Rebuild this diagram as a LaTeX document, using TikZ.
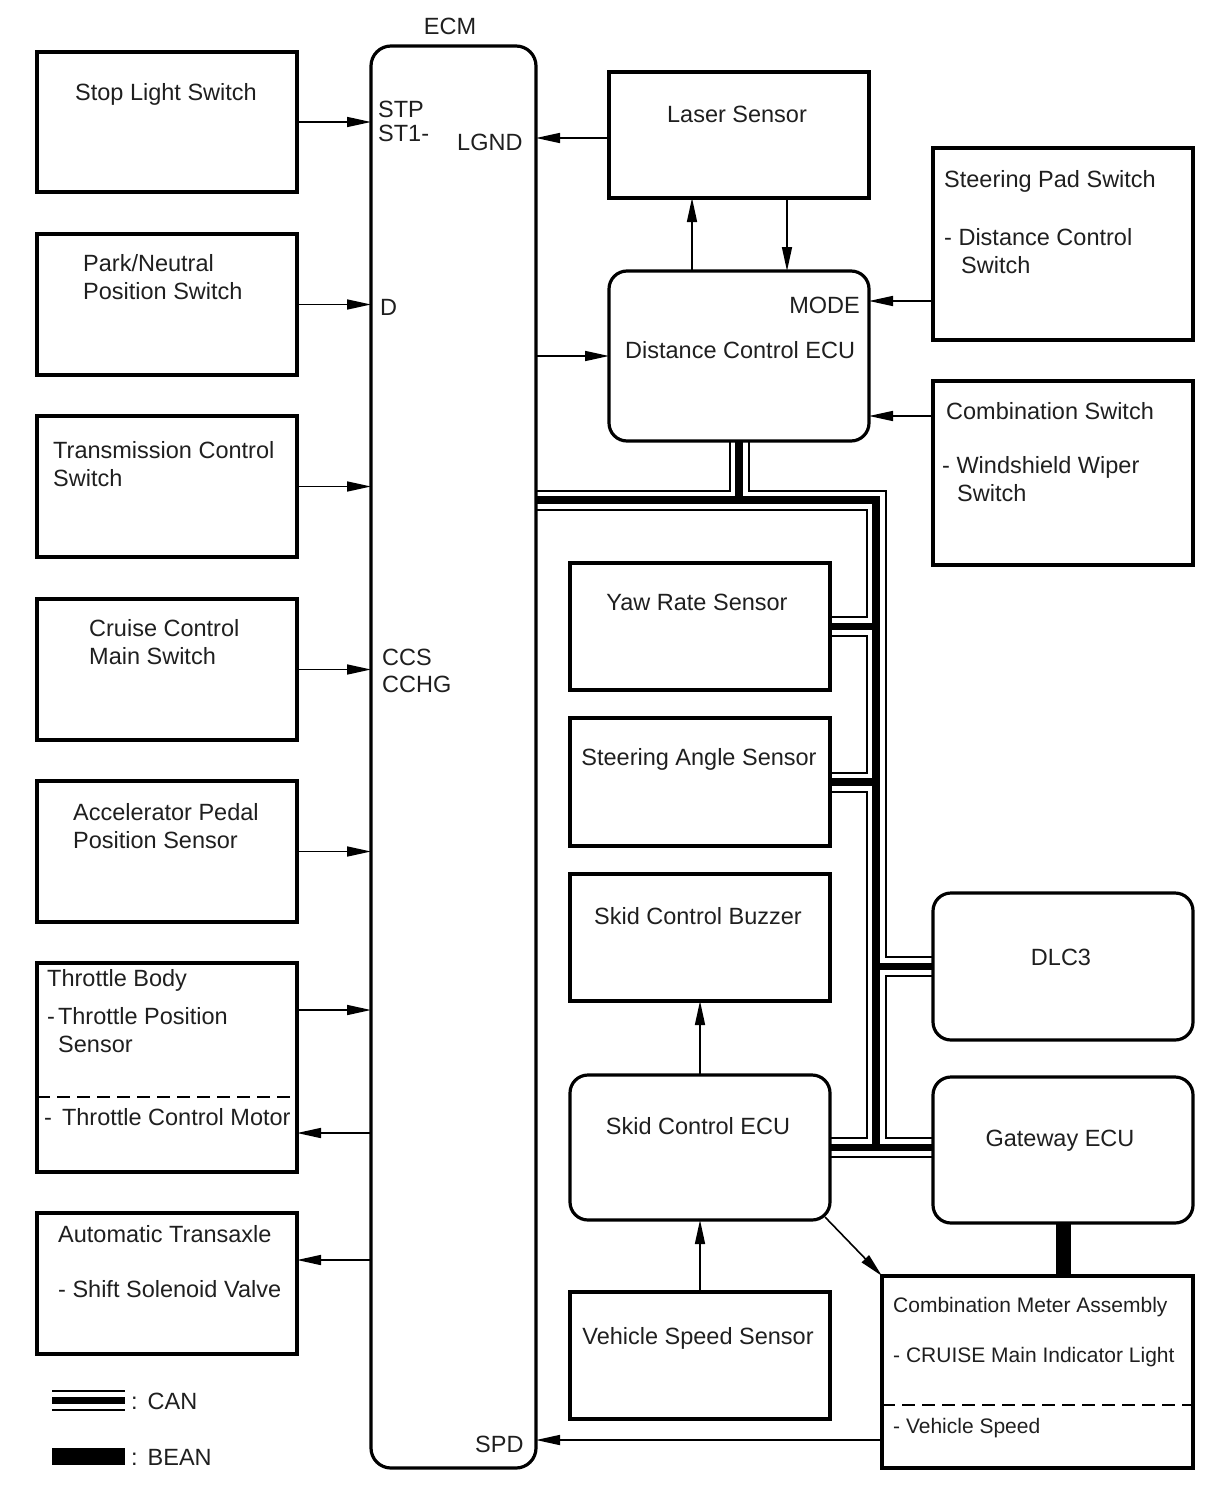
\documentclass[tikz,border=0pt]{standalone}
\usepackage{fontspec}
\setmainfont{Liberation Sans}
\usetikzlibrary{arrows.meta}
\pgfdeclarelayer{background}
\pgfsetlayers{background,main}
\newcommand\fs{\fontsize{23.5}{28}\selectfont}
\newcommand\fss{\fontsize{21}{26}\selectfont}
\begin{document}
\begin{tikzpicture}[x=1pt,y=-1pt,
  box/.style={draw, line width=3.2pt, inner sep=0pt, outer sep=0pt},
  rbox/.style={box, rounded corners=18pt},
  arr/.style={line width=1.6pt, -{Triangle[length=24pt,width=10pt]}},
  txt/.style={anchor=base west, inner sep=0pt, font=\fs, text=black!88},
  ctxt/.style={anchor=base, inner sep=0pt, font=\fs, text=black!88},
  stxt/.style={anchor=base west, inner sep=0pt, font=\fss, text=black!88},
  sep/.style={line width=1.8pt, dash pattern=on 13pt off 7pt}]
\useasboundingbox (0,0) rectangle (1210,1498);

% ---------- boxes ----------
\node[box, minimum width=260, minimum height=140] (stop) at (167,122) {};
\node[box, minimum width=260, minimum height=141] (pn)   at (167,304.5) {};
\node[box, minimum width=260, minimum height=141] (tcs)  at (167,486.5) {};
\node[box, minimum width=260, minimum height=141] (ccm)  at (167,669.5) {};
\node[box, minimum width=260, minimum height=141] (apps) at (167,851.5) {};
\node[box, minimum width=260, minimum height=209] (tb)   at (167,1067.5) {};
\node[box, minimum width=260, minimum height=141] (at)   at (167,1283.5) {};

\node[box, rounded corners=20pt, minimum width=165, minimum height=1422] (ecm) at (453.5,757) {};

\node[box, minimum width=260, minimum height=126] (laser) at (739,135) {};
\node[rbox, minimum width=260, minimum height=170] (dce) at (739,356) {};
\node[box, minimum width=260, minimum height=192] (sps) at (1063,244) {};
\node[box, minimum width=260, minimum height=184] (cms) at (1063,473) {};

\node[box, minimum width=260, minimum height=127] (yaw) at (700,626.5) {};
\node[box, minimum width=260, minimum height=128] (sas) at (700,782) {};
\node[box, minimum width=260, minimum height=127] (buz) at (700,937.5) {};
\node[rbox, minimum width=260, minimum height=145] (skid) at (700,1147.5) {};
\node[box, minimum width=260, minimum height=127] (vss) at (700,1355.5) {};

\node[rbox, minimum width=260, minimum height=147] (dlc) at (1063,966.5) {};
\node[rbox, minimum width=260, minimum height=146] (gw) at (1063,1150) {};
\node[box, minimum width=311, minimum height=192] (cma) at (1037.5,1372) {};

% ---------- dashed separators ----------
\draw[sep] (tb.west |- 0,1097) -- (tb.east |- 0,1097);
\draw[sep] (cma.west |- 0,1405) -- (cma.east |- 0,1405);

% ---------- texts ----------
\node[ctxt] (ecmlbl) at (450,35) {ECM};
\node[txt] (t1) at (75,101) {Stop Light Switch};
\node[txt] (t2a) at (83,271) {Park/Neutral};
\node[txt] (t2b) at (83,299) {Position Switch};
\node[txt] (t3a) at (53,458) {Transmission Control};
\node[txt] (t3b) at (53,486) {Switch};
\node[txt] (t4a) at (89,636) {Cruise Control};
\node[txt] (t4b) at (89,664) {Main Switch};
\node[txt] (t5a) at (73,820) {Accelerator Pedal};
\node[txt] (t5b) at (73,848) {Position Sensor};
\node[txt] (t6a) at (47,986) {Throttle Body};
\node[txt] (t6b) at (47,1024) {-\kern3pt Throttle Position};
\node[txt] (t6c) at (58,1052) {Sensor};
\node[txt] (t6d) at (44,1125) {-\kern10pt Throttle Control Motor};
\node[txt] (t7a) at (58,1242) {Automatic Transaxle};
\node[txt] (t7b) at (58,1297) {- Shift Solenoid Valve};

\node[txt] (pSTP) at (378,118) {STP};
\node[txt] (pST1) at (378,142) {ST1-};
\node[txt] (pLGND) at (457,151) {LGND};
\node[txt] (pD) at (380,315) {D};
\node[txt] (pCCS) at (382,665) {CCS};
\node[txt] (pCCHG) at (382,692) {CCHG};
\node[txt] (pSPD) at (475,1452) {SPD};

\node[ctxt] (tlaser) at (737,123) {Laser Sensor};
\node[anchor=base east, inner sep=0pt, font=\fs, text=black!88] (tmode) at (860,313) {MODE};
\node[txt] (tdce) at (625,358) {Distance Control ECU};
\node[txt] (tsps1) at (944,188) {Steering Pad Switch};
\node[txt] (tsps2) at (944,245) {- Distance Control};
\node[txt] (tsps3) at (961,273) {Switch};
\node[txt] (tcms1) at (946,419) {Combination Switch};
\node[txt] (tcms2) at (942,473) {- Windshield Wiper};
\node[txt] (tcms3) at (957,501) {Switch};

\node[ctxt] (tyaw) at (697,610) {Yaw Rate Sensor};
\node[ctxt] (tsas) at (699,765) {Steering Angle Sensor};
\node[ctxt] (tbuz) at (698,924) {Skid Control Buzzer};
\node[ctxt] (tskid) at (698,1134) {Skid Control ECU};
\node[ctxt] (tvss) at (698,1344) {Vehicle Speed Sensor};
\node[ctxt] (tdlc) at (1061,965) {DLC3};
\node[ctxt] (tgw) at (1060,1146) {Gateway ECU};
\node[stxt] (tcma1) at (893,1312) {Combination Meter Assembly};
\node[stxt] (tcma2) at (893,1362) {- CRUISE Main Indicator Light};
\node[stxt] (tcma3) at (893,1433) {- Vehicle Speed};

\node[txt] (tlcan) at (131,1409) {:\kern10pt CAN};
\node[txt] (tlbean) at (131,1465) {:\kern10pt BEAN};

% ---------- helper coordinates ----------
\coordinate (canTR) at (876,500);
\coordinate (yLG) at (0,138);
\coordinate (yMODE) at (0,301);
\coordinate (yCOMB) at (0,416);
\coordinate (yTPS) at (0,1010);
\coordinate (yTCM) at (0,1133);
\coordinate (yAT) at (0,1260);
\coordinate (ySPD) at (0,1440);
\coordinate (xUp) at (692,0);
\coordinate (xDown) at (787,0);
\coordinate (lgA) at (52,1400.5);
\coordinate (lgB) at (125,1400.5);
\coordinate (lbA) at (52,1456.5);
\coordinate (lbB) at (125,1456.5);

% ---------- arrows ----------
\draw[arr] (stop.east) -- (stop.east -| ecm.west);
\draw[arr] (pn.east) -- (pn.east -| ecm.west);
\draw[arr] (tcs.east) -- (tcs.east -| ecm.west);
\draw[arr] (ccm.east) -- (ccm.east -| ecm.west);
\draw[arr] (apps.east) -- (apps.east -| ecm.west);
\draw[arr] (tb.east |- yTPS) -- (ecm.west |- yTPS);
\draw[arr] (ecm.west |- yTCM) -- (tb.east |- yTCM);
\draw[arr] (ecm.west |- yAT) -- (at.east |- yAT);

\draw[arr] (laser.west |- yLG) -- (ecm.east |- yLG);
\draw[arr] (ecm.east |- dce.west) -- (dce.west);
\draw[arr] (dce.north -| xUp) -- (laser.south -| xUp);
\draw[arr] (laser.south -| xDown) -- (dce.north -| xDown);
\draw[arr] (sps.west |- yMODE) -- (dce.east |- yMODE);
\draw[arr] (cms.west |- yCOMB) -- (dce.east |- yCOMB);

\draw[arr] (skid.north) -- (buz.south);
\draw[arr] (vss.north) -- (skid.south);
\draw[arr] ([xshift=-5pt,yshift=3pt]skid.south east) -- (cma.north west);
\draw[arr] (cma.west |- ySPD) -- (ecm.east |- ySPD);

% ---------- BEAN ----------
\draw[line width=15pt] (gw.south) -- (gw.south |- cma.north);
\draw[line width=17pt] (lbA) -- (lbB);

% ---------- CAN bus ----------
\begin{pgfonlayer}{background}
\foreach \w/\c in {21/black,17/white,7.5/black}{
  \draw[line width=\w pt, draw=\c, line cap=butt, line join=miter]
    (ecm.east |- canTR) -- (canTR) -- (canTR |- skid.east)
    (dce.south) -- (dce.south |- canTR)
    (yaw.east) -- (yaw.east -| canTR)
    (sas.east) -- (sas.east -| canTR)
    (dlc.west) -- (dlc.west -| canTR)
    (skid.east) -- (skid.east -| gw.west)
    (lgA) -- (lgB);
}
\end{pgfonlayer}
\end{tikzpicture}
\end{document}
